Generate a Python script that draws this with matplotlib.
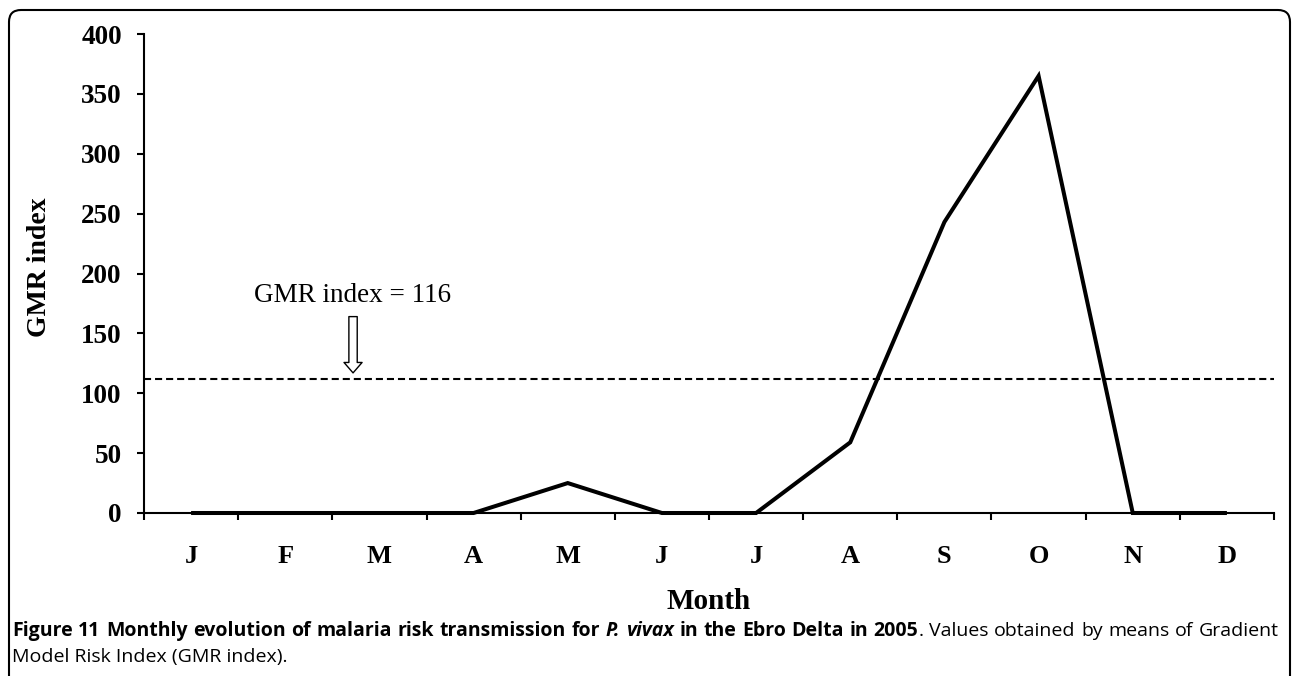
import matplotlib
matplotlib.use("Agg")
import matplotlib.pyplot as plt
from matplotlib.patches import FancyBboxPatch
from matplotlib.transforms import IdentityTransform

# ---- data ----
months = ["J", "F", "M", "A", "M", "J", "J", "A", "S", "O", "N", "D"]
gmr_values = [0, 0, 0, 0, 25, 0, 0, 59, 243, 365, 0, 0]
threshold = 112
threshold_label = "GMR index = 116"
y_ticks = [0, 50, 100, 150, 200, 250, 300, 350, 400]
x_label = "Month"
y_label = "GMR index"

caption_line1 = [
    [("Figure", "b")], [("11", "b")], [("Monthly", "b")], [("evolution", "b")],
    [("of", "b")], [("malaria", "b")], [("risk", "b")], [("transmission", "b")],
    [("for", "b")], [("P.", "bi")], [("vivax", "bi")], [("in", "b")], [("the", "b")],
    [("Ebro", "b")], [("Delta", "b")], [("in", "b")], [("2005", "b"), (".", "r")],
    [("Values", "r")], [("obtained", "r")], [("by", "r")], [("means", "r")],
    [("of", "r")], [("Gradient", "r")],
]
caption_line2 = "Model Risk Index (GMR index)."

W, H = 1292, 676
fig = plt.figure(figsize=(W / 100, H / 100), dpi=100)
serif = "Liberation Serif"
sans = "Open Sans"

ax_l, ax_r, ax_t, ax_b = 144, 1274, 34, 513
ax = fig.add_axes([ax_l / W, 1 - ax_b / H, (ax_r - ax_l) / W, (ax_b - ax_t) / H])

n = len(months)
xs = [i + 0.5 for i in range(n)]
ax.plot(xs, gmr_values, color="black", lw=2.9, solid_joinstyle="miter",
        solid_capstyle="butt", zorder=3, clip_on=False)
ax.axhline(threshold, color="black", lw=1.5, ls=(0, (3.4, 1.9)), zorder=2)

ax.set_xlim(0, n)
ax.set_ylim(0, 400)
for s in ["top", "right"]:
    ax.spines[s].set_visible(False)
for s in ["left", "bottom"]:
    ax.spines[s].set_linewidth(1.5)

ax.set_yticks(y_ticks)
ax.set_yticklabels([str(v) for v in y_ticks], fontfamily=serif, fontweight="bold", fontsize=19.5)
ax.tick_params(axis="y", direction="out", length=5, width=1.5, pad=11)

ax.set_xticks(range(n + 1))
ax.set_xticklabels([""] * (n + 1))
ax.set_xticks(xs, minor=True)
ax.set_xticklabels(months, minor=True, fontfamily=serif, fontweight="bold", fontsize=19)
ax.tick_params(axis="x", which="major", direction="out", length=5, width=1.5)
ax.tick_params(axis="x", which="minor", length=0, pad=23)

ax.set_xlabel(x_label, fontfamily=serif, fontweight="bold", fontsize=21)
ax.xaxis.set_label_coords(0.5, (ax_b - 588) / (ax_b - ax_t))
ax.set_ylabel(y_label, fontfamily=serif, fontweight="bold", fontsize=20)
ax.yaxis.label.set_va("center")
ax.yaxis.set_label_coords((40 - ax_l) / (ax_r - ax_l), (ax_b - 267.5) / (ax_b - ax_t))

# annotation with hollow arrow
ann_x = 2.22
ax.text(ann_x, 182, threshold_label, ha="center", va="center",
        fontfamily=serif, fontsize=19.5)
ax.annotate("", xy=(ann_x, 117), xytext=(ann_x, 164),
            arrowprops=dict(arrowstyle="simple,head_length=7.5,head_width=13,tail_width=6",
                            mutation_scale=1, fc="white", ec="black", lw=1,
                            shrinkA=0, shrinkB=0))

# rounded frame
frame = FancyBboxPatch((9, -30), 1281, 676 - 10 + 30,
                       boxstyle="round,pad=0,rounding_size=12",
                       transform=IdentityTransform(), fill=False,
                       ec="black", lw=1.5)
fig.add_artist(frame)

# caption (justified first line)
renderer = fig.canvas.get_renderer()
cap_size = 14
styles = {"b": dict(fontweight="bold", fontstyle="normal"),
          "bi": dict(fontweight="bold", fontstyle="italic"),
          "r": dict(fontweight="normal", fontstyle="normal")}


def measure(s, st):
    t = fig.text(0, 0, s, fontfamily=sans, fontsize=cap_size, **styles[st])
    w = t.get_window_extent(renderer).width
    t.remove()
    return w


left_px, right_px = 12, 1279
y1, y2 = 636, 662
widths = [[measure(s, st) for s, st in grp] for grp in caption_line1]
total = sum(sum(w) for w in widths)
gap = (right_px - left_px - total) / (len(caption_line1) - 1)
x = left_px
for grp, ws in zip(caption_line1, widths):
    for (s, st), w in zip(grp, ws):
        fig.text(x / W, 1 - y1 / H, s, fontfamily=sans, fontsize=cap_size,
                 ha="left", va="baseline", **styles[st])
        x += w
    x += gap
fig.text(left_px / W, 1 - y2 / H, caption_line2, fontfamily=sans, fontsize=cap_size,
         ha="left", va="baseline")

fig.savefig("out.png", dpi=100)
